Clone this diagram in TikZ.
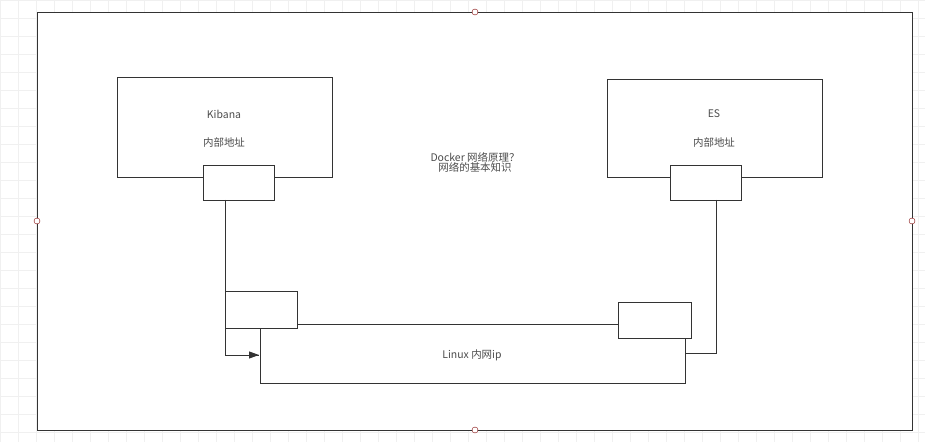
\documentclass[tikz,border=0pt]{standalone}
\usepackage{fontspec}
\setmainfont{Noto Sans CJK SC}
\usetikzlibrary{arrows.meta}
\begin{document}
\begin{tikzpicture}[x=1bp,y=-1bp,
  box/.style={draw=black!80,line width=0.9bp,fill=white},
  lbl/.style={font=\fontsize{10.5}{12}\selectfont,text=black!70,align=center},
  wire/.style={draw=black!80,line width=0.9bp},
  dot/.style={circle,draw=red!50!black,fill=white,inner sep=0pt,minimum size=6bp}]
\useasboundingbox (0,0) rectangle (925,442);
\fill[white] (0,0) rectangle (925,442);
\draw[black!6,step=18bp] (0,0) grid (925,442);
\draw[box] (37,12) rectangle (912,430);
\node[dot] (d1) at (475,12) {};
\node[dot] (d2) at (37,221) {};
\node[dot] (d3) at (912,221) {};
\node[dot] (d4) at (475,430) {};
% Kibana
\draw[box] (117,77) rectangle (332,177);
\node[lbl] (kt) at (224,114) {Kibana};
\node[lbl] (ka) at (224,143) {内部地址};
\draw[box] (203,165) rectangle (274,200);
\coordinate (kp) at (225,200);
% ES
\draw[box] (607,79) rectangle (822,177);
\node[lbl] (et) at (714,114) {ES};
\node[lbl] (ea) at (714,143) {内部地址};
\draw[box] (670,165) rectangle (741,200);
\coordinate (ep) at (716,200);
\node[lbl] (c) at (475,162) {Docker 网络原理？\\[-2pt]网络的基本知识};
% Linux
\draw[box] (260,324) rectangle (685,383);
\node[lbl] (li) at (472,355) {Linux 内网ip};
\coordinate (lL) at (259,355);
\coordinate (lR) at (685,353);
\draw[wire] (kp) -- (225,355) -- (lL);
\draw[wire,-{Triangle[length=10bp,width=7bp]}] (230,355) -- (lL);
\draw[wire] (ep) -- (716,353) -- (lR);
\draw[box] (225,291) rectangle (297,328);
\draw[box] (618,302) rectangle (691,338);
\draw[wire] (297,324) -- (618,324);
\end{tikzpicture}
\end{document}
